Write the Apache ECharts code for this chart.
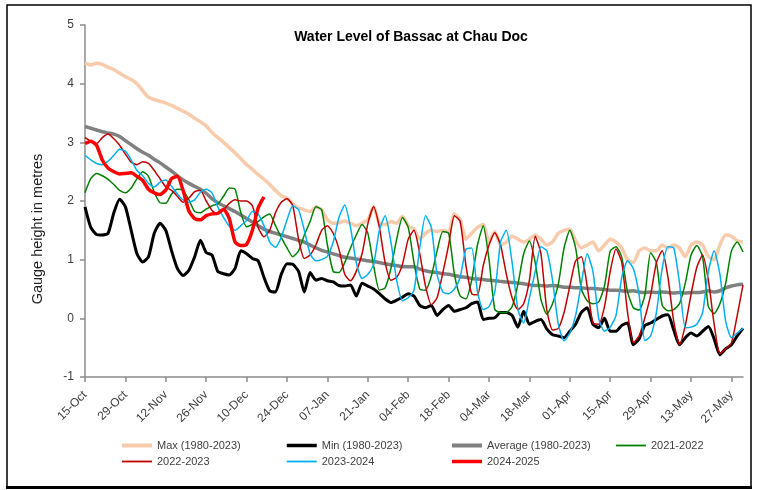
<!DOCTYPE html>
<html><head><meta charset="utf-8">
<script src="https://cdn.jsdelivr.net/npm/echarts@6/dist/echarts.min.js"></script>
<style>html,body{margin:0;padding:0;background:#fff}#c{width:760px;height:490px}</style>
</head><body><div id="c"></div>
<script>
// x axis: daily categories from 15-Oct to 31-May (229 days); values sampled every 2 days
const tickLabels = ['15-Oct','29-Oct','12-Nov','26-Nov','10-Dec','24-Dec','07-Jan','21-Jan','04-Feb','18-Feb','04-Mar','18-Mar','01-Apr','15-Apr','29-Apr','13-May','27-May'];
const dayCount = 229;
const stepDays = 2;

const maxVals = [4.35,4.32,4.35,4.33,4.28,4.24,4.18,4.12,4.07,4.00,3.88,
 3.77,3.73,3.70,3.67,3.63,3.58,3.53,3.48,3.41,3.35,
 3.28,3.17,3.08,3.00,2.91,2.82,2.72,2.62,2.54,2.45,
 2.37,2.28,2.18,2.09,2.05,1.95,1.88,1.85,1.82,1.90,
 1.85,1.68,1.62,1.63,1.66,1.62,1.58,1.62,1.68,1.90,
 1.62,1.60,1.65,1.62,1.74,1.58,1.52,1.35,1.45,1.50,
 1.48,1.50,1.47,1.78,1.68,1.35,1.45,1.55,1.60,1.30,
 1.48,1.25,1.30,1.40,1.35,1.30,1.35,1.42,1.35,1.25,
 1.30,1.45,1.50,1.52,1.32,1.20,1.25,1.30,1.15,1.25,
 1.35,1.30,1.20,1.00,0.95,1.15,1.20,1.15,1.15,1.25,
 1.20,1.25,1.20,1.05,1.25,1.30,1.25,1.05,1.00,1.25,
 1.42,1.40,1.32,1.30];

const minVals = [1.90,1.55,1.43,1.42,1.45,1.80,2.03,1.90,1.50,1.10,0.96,
 1.05,1.45,1.62,1.50,1.15,0.85,0.73,0.82,1.05,1.33,
 1.12,1.08,0.80,0.76,0.74,0.85,1.15,1.10,1.02,0.98,
 0.70,0.47,0.45,0.75,0.93,0.92,0.80,0.45,0.78,0.65,
 0.68,0.64,0.62,0.56,0.55,0.57,0.38,0.60,0.55,0.50,
 0.42,0.33,0.27,0.31,0.36,0.42,0.38,0.22,0.18,0.22,
 0.05,0.15,0.22,0.12,0.15,0.18,0.25,0.28,-0.02,0.00,
 0.01,0.10,0.10,0.05,-0.15,0.12,-0.10,-0.05,-0.02,-0.18,
 -0.28,-0.30,-0.33,-0.22,-0.10,0.10,0.18,-0.10,-0.16,0.00,
 -0.22,-0.22,-0.12,-0.08,-0.45,-0.35,-0.12,-0.08,-0.02,0.04,
 0.06,-0.20,-0.45,-0.33,-0.25,-0.30,-0.22,-0.14,-0.35,-0.62,
 -0.52,-0.45,-0.30,-0.17];

const avgVals = [3.27,3.24,3.21,3.18,3.16,3.14,3.10,3.03,2.96,2.89,2.83,
 2.78,2.71,2.65,2.58,2.51,2.43,2.36,2.30,2.25,2.20,
 2.13,2.04,1.97,1.92,1.87,1.82,1.76,1.70,1.64,1.58,
 1.52,1.48,1.45,1.42,1.39,1.36,1.33,1.30,1.25,1.20,
 1.16,1.13,1.10,1.07,1.04,1.03,1.01,1.00,0.98,0.97,
 0.95,0.93,0.91,0.90,0.88,0.88,0.88,0.84,0.81,0.79,
 0.78,0.76,0.75,0.73,0.71,0.70,0.68,0.67,0.66,0.65,
 0.64,0.63,0.62,0.61,0.60,0.59,0.57,0.56,0.56,0.55,
 0.56,0.55,0.53,0.53,0.52,0.52,0.51,0.51,0.50,0.49,
 0.48,0.48,0.47,0.46,0.47,0.45,0.44,0.45,0.44,0.45,
 0.44,0.43,0.44,0.43,0.44,0.44,0.45,0.47,0.45,0.47,
 0.52,0.55,0.57,0.58];

const y2122 = [2.14,2.38,2.47,2.43,2.37,2.28,2.18,2.14,2.22,2.38,2.50,
 2.42,2.15,1.97,1.96,2.12,2.20,2.18,2.02,1.82,1.80,
 1.86,1.92,1.95,2.08,2.22,2.20,1.80,1.56,1.60,1.65,
 1.73,1.78,1.58,1.38,1.20,1.05,1.15,1.42,1.65,1.90,
 1.85,1.25,0.80,0.78,0.95,1.20,1.42,1.60,1.45,0.90,
 0.48,0.52,0.85,1.35,1.72,1.55,0.95,0.50,0.48,0.72,
 1.15,1.48,1.45,0.75,0.38,0.33,0.65,1.25,1.58,1.00,
 0.15,0.10,0.10,0.20,0.58,1.10,1.32,0.95,0.32,0.07,
 0.25,0.58,1.20,1.50,1.20,0.50,0.30,0.25,0.28,0.55,
 1.15,1.22,1.04,0.45,0.18,0.14,0.40,1.12,0.95,0.22,
 0.13,0.15,0.25,0.60,1.08,1.24,1.05,0.20,0.08,0.25,
 0.60,1.15,1.30,1.13];

const y2223 = [3.08,3.02,2.98,3.08,3.14,3.06,2.95,2.80,2.66,2.62,2.67,
 2.64,2.52,2.38,2.24,2.18,2.08,1.98,2.05,2.16,2.18,
 2.00,1.84,1.78,1.85,1.96,2.02,2.00,2.00,1.92,1.55,
 1.39,1.50,1.80,1.98,2.04,1.92,1.35,1.02,1.08,1.25,
 1.50,1.58,1.45,1.18,0.75,0.64,0.80,1.10,1.61,1.90,
 1.55,0.95,0.65,0.70,0.92,1.35,1.50,1.10,0.55,0.23,
 0.35,0.78,1.25,1.75,1.65,0.90,0.42,0.40,0.90,1.25,
 1.46,1.25,0.75,0.35,0.15,0.25,0.65,1.40,1.10,0.15,
 -0.20,-0.17,0.10,0.55,0.98,1.05,0.55,-0.08,-0.10,0.20,
 0.80,1.18,0.95,0.10,-0.42,-0.30,0.01,0.40,0.95,1.15,
 0.70,-0.05,-0.45,-0.12,0.41,0.87,1.08,0.65,-0.10,-0.60,
 -0.52,-0.42,0.05,0.57];

const y2324 = [2.78,2.70,2.64,2.62,2.68,2.78,2.88,2.85,2.70,2.52,2.43,
 2.30,2.24,2.32,2.36,2.25,2.12,2.02,1.98,2.02,2.15,
 2.20,2.14,1.90,1.72,1.57,1.50,1.58,1.67,1.82,1.78,
 1.58,1.30,1.21,1.38,1.68,1.92,1.85,1.50,1.10,0.98,
 1.00,1.06,1.30,1.72,1.93,1.55,0.95,0.68,0.75,0.92,
 1.50,1.75,1.30,0.65,0.30,0.35,0.48,1.20,1.75,1.55,
 0.75,0.45,0.42,0.50,0.70,1.18,1.20,0.45,0.15,0.20,
 0.45,1.30,1.50,0.95,0.15,-0.08,0.35,0.80,1.22,1.15,
 0.65,-0.10,-0.38,-0.25,0.05,0.60,1.10,0.80,0.00,-0.22,
 -0.15,0.05,0.70,0.98,0.85,0.40,-0.38,-0.30,0.10,0.85,
 1.22,1.20,0.60,-0.16,-0.15,-0.10,0.10,0.80,1.15,0.75,
 -0.05,-0.33,-0.25,-0.17];

const y2425 = [2.98,3.02,2.95,2.70,2.56,2.50,2.46,2.47,2.48,2.42,2.35,
 2.20,2.14,2.11,2.19,2.38,2.42,2.18,1.83,1.70,1.68,
 1.75,1.78,1.79,1.86,1.70,1.30,1.24,1.26,1.50,1.88,2.07];

const seriesNames = ['Max (1980-2023)','Min (1980-2023)','Average (1980-2023)','2021-2022','2022-2023','2023-2024','2024-2025'];
const seriesData = [maxVals, minVals, avgVals, y2122, y2223, y2324, y2425];
const seriesColors = ['#F8CBAD','#000000','#808080','#008000','#C00000','#00B0F0','#FF0000'];
const seriesWidths = [3.5, 3, 3.5, 1.5, 1.5, 1.5, 3.5];
const legendWidths = [4, 3.5, 4, 1.8, 1.8, 1.8, 3.5];

const categories = Array.from({length: dayCount}, (_, i) => String(i));
const FONT = '"Liberation Sans", Arial, sans-serif';

const chart = echarts.init(document.getElementById('c'), null, {renderer: 'canvas'});
const legendCols = [
  {left: 120, idx: [0, 4]},
  {left: 285, idx: [1, 5]},
  {left: 450, idx: [2, 6]},
  {left: 615, idx: [3]}
];

chart.setOption({
  animation: false,
  backgroundColor: '#ffffff',
  textStyle: {fontFamily: FONT},
  grid: {left: 85, top: 25, right: 17, bottom: 113, containLabel: false, outerBoundsMode: 'none'},
  legend: legendCols.map(c => ({
    data: c.idx.map(k => ({name: seriesNames[k], lineStyle: {width: legendWidths[k], color: seriesColors[k]}})),
    left: c.left, top: 440, orient: 'vertical', padding: 0,
    itemWidth: 30, itemHeight: 12, itemGap: 5,
    itemStyle: {opacity: 0},
    textStyle: {fontSize: 11, color: '#404040', fontFamily: FONT},
    selectedMode: false
  })),
  xAxis: {
    type: 'category', data: categories, boundaryGap: false,
    axisLine: {onZero: false, lineStyle: {color: '#8c8c8c', width: 1.5}},
    axisTick: {show: true, interval: 13, length: 5, inside: false, lineStyle: {color: '#8c8c8c', width: 1.5}},
    axisLabel: {interval: 13, rotate: 45, margin: 16, fontSize: 12, color: '#404040', fontFamily: FONT,
      formatter: (v, i) => tickLabels[i / 14] || ''},
    splitLine: {show: false}
  },
  yAxis: {
    type: 'value', min: -1, max: 5, interval: 1,
    axisLine: {show: true, lineStyle: {color: '#8c8c8c', width: 1.5}},
    axisTick: {show: true, length: 5, lineStyle: {color: '#8c8c8c', width: 1.5}},
    axisLabel: {fontSize: 12, color: '#404040', margin: 11, fontFamily: FONT},
    splitLine: {show: false}
  },
  graphic: [
    {type: 'rect', shape: {x: 7, y: 5, width: 744, height: 482}, style: {fill: 'none', stroke: '#000', lineWidth: 1.5}, silent: true, z: 100},
    {type: 'line', shape: {x1: 6, y1: 487.5, x2: 752, y2: 487.5}, style: {stroke: '#000', lineWidth: 3}, silent: true, z: 100},
    {type: 'text', x: 411, y: 37, style: {text: 'Water Level of Bassac at Chau Doc', font: 'bold 14px ' + FONT, fill: '#000', textAlign: 'center', textVerticalAlign: 'middle'}, z: 100},
    {type: 'text', x: 38, y: 229, rotation: Math.PI / 2, style: {text: 'Gauge height in metres', font: '14.5px ' + FONT, fill: '#222', textAlign: 'center', textVerticalAlign: 'middle'}, z: 100}
  ],
  series: seriesNames.map((name, k) => ({
    name: name, type: 'line', symbol: 'none', showSymbol: false, smooth: 0.2,
    data: seriesData[k].map((v, i) => [i * stepDays, v]),
    lineStyle: {color: seriesColors[k], width: seriesWidths[k]},
    itemStyle: {color: seriesColors[k]},
    z: 2 + k
  }))
});
</script></body></html>
